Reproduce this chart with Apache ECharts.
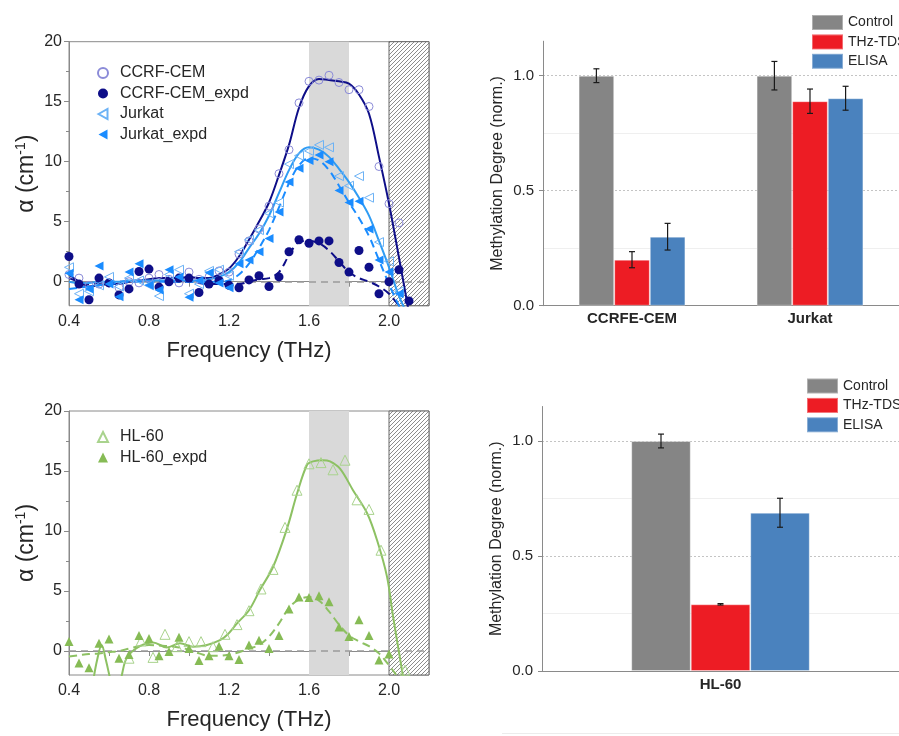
<!DOCTYPE html>
<html>
<head>
<meta charset="utf-8">
<script src="https://cdn.jsdelivr.net/npm/echarts@6/dist/echarts.min.js"></script>
<style>
  html, body { margin: 0; padding: 0; background: #fff; }
  #chart { width: 899px; height: 736px; }
</style>
</head>
<body>
<div id="chart"></div>
<script>
// ---------- Absorption spectra (THz) ----------
const freq = [0.40, 0.45, 0.50, 0.55, 0.60, 0.65, 0.70, 0.75, 0.80, 0.85, 0.90, 0.95, 1.00, 1.05, 1.10, 1.15, 1.20,
  1.25, 1.30, 1.35, 1.40, 1.45, 1.50, 1.55, 1.60, 1.65, 1.70, 1.75, 1.80, 1.85, 1.90, 1.95, 2.00, 2.05, 2.10];

const ccrfCem = [0.6, 0.3, -0.3, -0.2, -0.1, -0.5, 0.0, -0.1, 0.3, 0.6, 0.2, -0.1, 0.8, 0.2, 0.4, 0.9, 0.8,
  2.3, 3.4, 4.4, 6.3, 9.0, 11.0, 14.9, 16.7, 16.8, 17.2, 16.6, 16.0, 16.0, 14.6, 9.6, 6.5, 4.9, null];
const ccrfCemExpd = [2.1, -0.2, -1.5, 0.3, -0.1, -1.1, -0.6, 0.85, 1.05, -0.45, 0.0, 0.3, 0.3, -0.9, -0.2, 0.1, -0.3,
  -0.5, 0.15, 0.5, -0.4, 0.4, 2.5, 3.5, 3.2, 3.4, 3.4, 1.6, 0.8, 2.6, 1.2, -1.0, 0.0, 1.0, -1.6];
const jurkat = [1.2, -1.0, -0.8, -0.3, 0.4, -0.4, 0.3, 0.1, -0.3, -1.2, 0.6, 1.0, -1.0, -0.2, 0.9, 1.0, 0.5,
  2.5, 3.5, 4.3, 5.7, 6.6, 9.8, 10.5, 10.9, 11.4, 11.2, 8.8, 8.0, 8.8, 7.0, 3.3, 1.7, -0.8, null];
const jurkatExpd = [0.7, -1.5, -0.6, 1.3, -0.2, -1.25, 0.8, 1.5, -0.3, -0.7, 1.0, 0.4, -1.3, 0.1, 0.75, -0.1, -0.5,
  1.5, 1.8, 2.5, 3.6, 5.8, 8.3, 9.45, 10.1, 10.55, 10.0, 7.6, 6.6, 6.7, 4.4, 1.8, 0.8, -1.0, null];

// fitted curves on the same frequency grid
const ccrfCemFit = [0.6, 0.0, -0.4, -0.3, -0.2, -0.2, 0.0, 0.1, 0.2, 0.3, 0.3, 0.3, 0.4, 0.3, 0.3, 0.6, 1.1,
  2.1, 3.5, 5.0, 6.6, 8.9, 11.4, 14.5, 16.3, 16.9, 16.8, 16.7, 16.5, 15.6, 14.0, 10.4, 6.5, 2.0, -2.6];
const ccrfCemExpdFit = [0.3, 0.0, -0.2, -0.1, 0.0, 0.0, 0.0, 0.1, 0.1, 0.1, 0.0, 0.0, 0.0, -0.1, -0.2, -0.2, -0.2,
  -0.2, 0.0, 0.2, 0.3, 0.8, 2.2, 3.3, 3.4, 3.2, 2.6, 1.7, 0.8, 0.3, 0.0, -0.4, -1.0, -2.0, -3.0];
const jurkatFit = [0.0, -0.1, -0.1, 0.0, 0.0, 0.0, 0.1, 0.1, 0.1, 0.1, 0.1, 0.1, 0.1, 0.1, 0.2, 0.4, 0.8,
  1.6, 2.8, 4.0, 5.5, 7.4, 9.3, 10.7, 11.2, 11.0, 10.4, 9.4, 8.3, 7.0, 5.5, 3.4, 1.2, -1.2, -3.0];
const jurkatExpdFit = [-0.6, -0.5, -0.4, -0.3, -0.2, -0.1, 0.0, 0.0, 0.0, 0.0, 0.0, 0.0, 0.0, 0.0, 0.0, 0.0, 0.1,
  0.6, 1.5, 2.8, 4.3, 6.2, 8.2, 9.7, 10.3, 10.1, 9.3, 8.0, 6.6, 5.3, 3.8, 1.8, -0.2, -2.0, -3.5];

// HL-60 is sampled on its own grid
const freqHl = [0.70, 0.76, 0.82, 0.88, 0.94, 1.00, 1.06, 1.12, 1.18, 1.24, 1.30, 1.36, 1.42, 1.48, 1.54, 1.60,
  1.66, 1.72, 1.78, 1.84, 1.90, 1.96, 2.08];
const hl60 = [-0.6, 0.83, -0.53, 1.39, 0.36, 0.78, 0.78, 0.36, 1.39, 2.2, 3.36, 5.17, 6.8, 10.3, 13.4, 15.6,
  15.7, 15.1, 15.9, 12.6, 11.8, 8.4, -1.6];
const hl60Expd = [0.8, -1.0, -1.4, 0.65, 1.0, -0.6, -0.3, 1.3, 1.05, -0.4, -0.05, 1.15, 0.2, -0.8, -0.4, 0.4, -0.4,
  -0.7, 0.5, 0.9, 0.2, 1.3, 3.5, 4.5, 4.45, 4.6, 4.1, 2.0, 1.2, 2.6, 1.3, -0.75, -0.25, null, null];
const freqHlFit = [0.52, 0.54, 0.563, 0.585, 0.61, 0.635, 0.663, 0.68, 0.70, 0.75, 0.82, 0.89, 0.955, 1.02, 1.09,
  1.155, 1.19, 1.24, 1.30, 1.355, 1.42, 1.49, 1.54, 1.59, 1.62, 1.67, 1.705, 1.755, 1.82, 1.89, 1.94, 1.99, 2.02, 2.07];
const hl60Fit = [-2.6, -0.8, 0.5, -0.8, -2.6, -4.0, -2.1, -0.9, -0.3, 0.36, 0.7, 0.3, 0.64, 0.36, 0.5,
  0.9, 1.33, 2.3, 3.4, 5.1, 7.0, 10.2, 13.1, 15.5, 15.8, 15.9, 15.8, 15.2, 13.4, 11.5, 9.25, 6.2, 2.9, -2.1];
const hl60ExpdFit = [-0.45, -0.35, -0.25, -0.2, -0.1, 0.0, 0.2, 0.4, 0.5, 0.45, 0.4, 0.3, 0.1, -0.2, -0.4, -0.4, -0.3,
  -0.1, 0.2, 0.5, 1.2, 2.3, 3.6, 4.3, 4.5, 4.2, 3.3, 2.2, 1.3, 0.8, 0.4, -0.2, -1.2, -2.3, -3.5];

const freqTicks = [0.4, 0.6, 0.8, 1.0, 1.2, 1.4, 1.6, 1.8, 2.0];
const freqLabels = [0.4, 0.8, 1.2, 1.6, 2.0];
const alphaLabels = [0, 5, 10, 15, 20];
const alphaMinor = [2.5, 7.5, 12.5, 17.5];
const bandRange = [1.6, 1.8];
const hatchRange = [2.0, 2.2];

// ---------- Methylation degree ----------
const methods = ['Control', 'THz-TDS', 'ELISA'];
const cellsTop = ['CCRFE-CEM', 'Jurkat'];
const controlTop = [1.0, 1.0];
const controlTopErr = [0.03, 0.062];
const thzTop = [0.20, 0.889];
const thzTopErr = [0.035, 0.053];
const elisaTop = [0.30, 0.902];
const elisaTopErr = [0.058, 0.052];

const cellsBottom = ['HL-60'];
const controlBottom = [1.0];
const controlBottomErr = [0.03];
const thzBottom = [0.29];
const thzBottomErr = [0.003];
const elisaBottom = [0.688];
const elisaBottomErr = [0.063];

const methylLabels = [0, 0.5, 1.0];
const methylMajorGrid = [0.5, 1.0];
const methylMinorGrid = [0.25, 0.75];

// ---------- styling ----------
const FONT = "'Liberation Sans', Arial, sans-serif";
const AXIS = '#8a8a8a';
const TEXT = '#262626';
const methodColors = ['#858585', '#ed1c24', '#4a82be'];

// diagonal hatch tile for the excluded high-frequency band
const hatch = document.createElement('canvas');
hatch.width = 4; hatch.height = 4;
(function () {
  const g = hatch.getContext('2d');
  g.fillStyle = '#ffffff';
  g.fillRect(0, 0, 4, 4);
  g.strokeStyle = '#8c8c8c';
  g.lineWidth = 1;
  g.beginPath();
  g.moveTo(0, 4); g.lineTo(4, 0);
  g.moveTo(-1, 1); g.lineTo(1, -1);
  g.moveTo(3, 5); g.lineTo(5, 3);
  g.stroke();
})();

function pairs(xs, ys) {
  const out = [];
  xs.forEach((x, i) => { if (ys[i] !== null && ys[i] !== undefined) out.push([x, ys[i]]); });
  return out;
}

const leftTriangle = 'path://M0,5L9,0L9,10Z';

function spectrumAxes(gridIndex) {
  const x = {
    type: 'value', gridIndex, min: 0.4, max: 2.2,
    name: 'Frequency (THz)', nameLocation: 'middle', nameGap: 34,
    nameTextStyle: { fontFamily: FONT, fontSize: 22, color: TEXT },
    axisLine: { lineStyle: { color: AXIS, width: 1 } },
    axisTick: { show: true, inside: false, length: 5, customValues: freqTicks, lineStyle: { color: AXIS } },
    axisLabel: { customValues: freqLabels, formatter: v => v.toFixed(1), fontFamily: FONT, fontSize: 16, color: TEXT, margin: 8 },
    splitLine: { show: false }
  };
  const y = {
    type: 'value', gridIndex, min: -2, max: 20,
    name: 'α (cm{sup|-1})', nameLocation: 'middle', nameGap: 29,
    nameTextStyle: {
      fontFamily: FONT, fontSize: 23, color: TEXT,
      rich: { sup: { fontFamily: FONT, fontSize: 14, color: TEXT, verticalAlign: 'top', lineHeight: 26 } }
    },
    axisLine: { lineStyle: { color: AXIS, width: 1 } },
    axisTick: { show: true, length: 5, customValues: alphaLabels, lineStyle: { color: AXIS } },
    axisLabel: { customValues: alphaLabels, fontFamily: FONT, fontSize: 16, color: TEXT, margin: 7 },
    splitLine: { show: false }
  };
  const yMinor = {
    type: 'value', gridIndex, min: -2, max: 20, position: 'left',
    axisLine: { show: false },
    axisTick: { show: true, length: 3, customValues: alphaMinor, lineStyle: { color: AXIS } },
    axisLabel: { show: false },
    splitLine: { show: false }
  };
  return { x, y, yMinor };
}

function methylAxes(gridIndex, cats) {
  const x = {
    type: 'category', gridIndex, data: cats,
    axisLine: { lineStyle: { color: AXIS, width: 1 } },
    axisTick: { show: false },
    axisLabel: { fontFamily: FONT, fontSize: 15, fontWeight: 'bold', color: TEXT, margin: 6 }
  };
  const y = {
    type: 'value', gridIndex, min: 0, max: 1.15,
    name: 'Methylation Degree (norm.)', nameLocation: 'middle', nameGap: 37,
    nameTextStyle: { fontFamily: FONT, fontSize: 16, color: TEXT },
    axisLine: { show: true, lineStyle: { color: AXIS, width: 1 } },
    axisTick: { show: true, length: 4, customValues: methylLabels, lineStyle: { color: AXIS } },
    axisLabel: { customValues: methylLabels, formatter: v => v.toFixed(1), fontFamily: FONT, fontSize: 15, color: TEXT, margin: 9 },
    splitLine: { show: false }
  };
  return { x, y };
}

const sp1 = spectrumAxes(0);
const sp2 = spectrumAxes(1);
const me1 = methylAxes(2, cellsTop);
const me2 = methylAxes(3, cellsBottom);

const xAxes = [sp1.x, sp2.x, me1.x, me2.x];
const yAxes = [sp1.y, sp2.y, me1.y, me2.y, sp1.yMinor, sp2.yMinor];

function backdrop(xi, yi) {
  return {
    type: 'line', xAxisIndex: xi, yAxisIndex: yi, data: [], z: 1, silent: true,
    markArea: {
      silent: true, z: 1,
      data: [
        [{ xAxis: bandRange[0], itemStyle: { color: '#d9d9d9' } }, { xAxis: bandRange[1] }],
        [{ xAxis: hatchRange[0], itemStyle: { color: { image: hatch, repeat: 'repeat' }, borderColor: '#666', borderWidth: 1 } }, { xAxis: hatchRange[1] }]
      ]
    },
    markLine: {
      silent: true, z: 2, symbol: 'none', label: { show: false },
      lineStyle: { color: '#9a9a9a', type: [7, 5], width: 1.5 },
      data: [{ yAxis: 0 }]
    }
  };
}

function fitLine(xi, yi, xs, ys, color, dashed) {
  return {
    type: 'line', xAxisIndex: xi, yAxisIndex: yi, data: pairs(xs, ys),
    smooth: 0.35, showSymbol: false, clip: true, z: 3, silent: true,
    lineStyle: { color, width: 2, type: dashed ? [8, 5] : 'solid' }
  };
}

function points(name, xi, yi, xs, ys, symbol, size, color, open) {
  return {
    type: 'scatter', name, xAxisIndex: xi, yAxisIndex: yi, data: pairs(xs, ys),
    symbol, symbolSize: size, clip: true, z: 4,
    itemStyle: open
      ? { color: 'rgba(255,255,255,0)', borderColor: color, borderWidth: 1, opacity: 1 }
      : { color, borderWidth: 0, opacity: 1 }
  };
}

function methylGridLines(xi, yi) {
  return {
    type: 'line', xAxisIndex: xi, yAxisIndex: yi, data: [], z: 0, silent: true,
    markLine: {
      silent: true, z: 0, symbol: 'none', label: { show: false },
      data: methylMajorGrid.map(v => ({ yAxis: v, lineStyle: { color: '#c4c4c4', type: [2, 2], width: 1 } }))
        .concat(methylMinorGrid.map(v => ({ yAxis: v, lineStyle: { color: '#efefef', type: 'solid', width: 1 } })))
    }
  };
}

function bars(name, xi, yi, vals, color, width) {
  return {
    type: 'bar', name, xAxisIndex: xi, yAxisIndex: yi, data: vals,
    barWidth: width, barGap: '0%', z: 2,
    itemStyle: { color, borderColor: 'rgba(255,255,255,0.35)', borderWidth: 1 }
  };
}

function errorBars(xi, yi, ratio, groups) {
  const data = [];
  groups.forEach((g, k) => {
    g.vals.forEach((v, i) => data.push([i, v - g.err[i], v + g.err[i], k]));
  });
  return {
    type: 'custom', xAxisIndex: xi, yAxisIndex: yi, data, z: 5, silent: true,
    encode: { x: 0, y: [1, 2] },
    renderItem(params, api) {
      const cat = api.value(0);
      const k = api.value(3);
      const band = api.size([1, 0])[0];
      const top = api.coord([cat, api.value(2)]);
      const bot = api.coord([cat, api.value(1)]);
      const x = top[0] + (k - 1) * band * ratio;
      const cap = 3;
      const st = { stroke: '#1a1a1a', lineWidth: 1.2 };
      return {
        type: 'group',
        children: [
          { type: 'line', shape: { x1: x, y1: top[1], x2: x, y2: bot[1] }, style: st },
          { type: 'line', shape: { x1: x - cap, y1: top[1], x2: x + cap, y2: top[1] }, style: st },
          { type: 'line', shape: { x1: x - cap, y1: bot[1], x2: x + cap, y2: bot[1] }, style: st }
        ]
      };
    }
  };
}

const C_CCRF_OPEN = '#8b8bd8';
const C_CCRF = '#0e0e88';
const C_JURKAT_OPEN = '#6cb2f5';
const C_JURKAT_LINE = '#2f9cf4';
const C_JURKAT = '#1a8cff';
const C_HL_OPEN = '#a9d38d';
const C_HL = '#8dc163';
const C_HL_FILL = '#86bb55';

const series = [
  backdrop(0, 0),
  backdrop(1, 1),
  fitLine(0, 0, freq, ccrfCemFit, C_CCRF, false),
  fitLine(0, 0, freq, ccrfCemExpdFit, C_CCRF, true),
  fitLine(0, 0, freq, jurkatFit, C_JURKAT_LINE, false),
  fitLine(0, 0, freq, jurkatExpdFit, C_JURKAT, true),
  points('CCRF-CEM', 0, 0, freq, ccrfCem, 'circle', 8, C_CCRF_OPEN, true),
  points('CCRF-CEM_expd', 0, 0, freq, ccrfCemExpd, 'circle', 9, C_CCRF, false),
  points('Jurkat', 0, 0, freq, jurkat, leftTriangle, 9, C_JURKAT_OPEN, true),
  points('Jurkat_expd', 0, 0, freq, jurkatExpd, leftTriangle, 9, C_JURKAT, false),
  fitLine(1, 1, freqHlFit, hl60Fit, C_HL, false),
  fitLine(1, 1, freq, hl60ExpdFit, C_HL, true),
  points('HL-60', 1, 1, freqHl, hl60, 'triangle', 10, C_HL_OPEN, true),
  points('HL-60_expd', 1, 1, freq, hl60Expd, 'triangle', 9, C_HL_FILL, false),

  methylGridLines(2, 2),
  bars(methods[0], 2, 2, controlTop, methodColors[0], '20%'),
  bars(methods[1], 2, 2, thzTop, methodColors[1], '20%'),
  bars(methods[2], 2, 2, elisaTop, methodColors[2], '20%'),
  errorBars(2, 2, 0.2, [
    { vals: controlTop, err: controlTopErr },
    { vals: thzTop, err: thzTopErr },
    { vals: elisaTop, err: elisaTopErr }
  ]),
  methylGridLines(3, 3),
  bars(methods[0], 3, 3, controlBottom, methodColors[0], '16.67%'),
  bars(methods[1], 3, 3, thzBottom, methodColors[1], '16.67%'),
  bars(methods[2], 3, 3, elisaBottom, methodColors[2], '16.67%'),
  errorBars(3, 3, 1 / 6, [
    { vals: controlBottom, err: controlBottomErr },
    { vals: thzBottom, err: thzBottomErr },
    { vals: elisaBottom, err: elisaBottomErr }
  ])
];

const spectrumLegend = (names, left, top) => ({
  data: names, orient: 'vertical', left, top,
  itemWidth: 10, itemHeight: 10, itemGap: 2.5, selectedMode: false,
  textStyle: { fontFamily: FONT, fontSize: 16, color: TEXT, lineHeight: 18, padding: [0, 0, 0, 7] }
});
const methylLegend = (left, top) => ({
  data: methods, orient: 'vertical', left, top, icon: 'rect',
  itemWidth: 31, itemHeight: 15, itemGap: 2.4, selectedMode: false,
  textStyle: { fontFamily: FONT, fontSize: 14, color: TEXT, lineHeight: 15 }
});

const chart = echarts.init(document.getElementById('chart'), null, { renderer: 'canvas' });
chart.setOption({
  animation: false,
  backgroundColor: '#ffffff',
  textStyle: { fontFamily: FONT },
  grid: [
    { left: 69, top: 41.7, width: 360, height: 264, show: true, borderColor: AXIS, borderWidth: 1, backgroundColor: 'transparent' },
    { left: 69, top: 411, width: 360, height: 264, show: true, borderColor: AXIS, borderWidth: 1, backgroundColor: 'transparent' },
    { left: 543, top: 41.2, width: 360, height: 264.5 },
    { left: 542, top: 406.5, width: 360, height: 264.5 }
  ],
  xAxis: xAxes,
  yAxis: yAxes,
  legend: [
    spectrumLegend(['CCRF-CEM', 'CCRF-CEM_expd', 'Jurkat', 'Jurkat_expd'], 92, 59),
    spectrumLegend(['HL-60', 'HL-60_expd'], 92, 423),
    methylLegend(806, 9),
    methylLegend(801, 372.5)
  ],
  graphic: [
    { type: 'line', shape: { x1: 502, y1: 733.5, x2: 899, y2: 733.5 }, style: { stroke: '#ececec', lineWidth: 1 }, silent: true }
  ],
  series
});
</script>
</body>
</html>
